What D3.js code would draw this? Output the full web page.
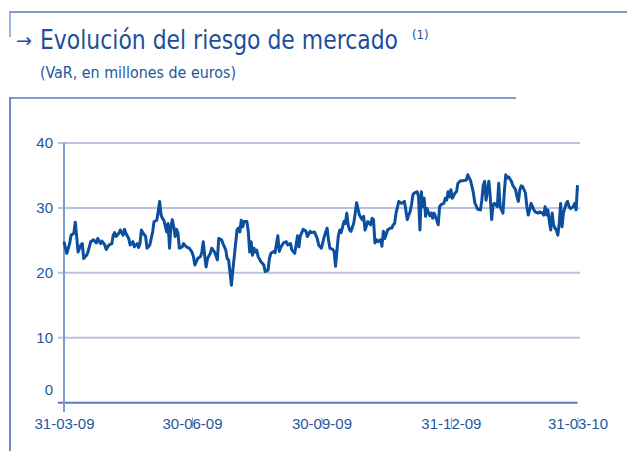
<!DOCTYPE html>
<html>
<head>
<meta charset="utf-8">
<script src="https://cdn.jsdelivr.net/npm/d3@7"></script>
<style>
  body { margin:0; background:#fff; }
  svg { display:block; }
</style>
</head>
<body>
<div id="chart"></div>
<script>
// ---- data ----
var startDate = "2009-03-31";
var endDate = "2010-03-31";
var tickDates = ["2009-03-31","2009-06-30","2009-09-30","2009-12-31","2010-03-31"];
var yTicks = [0, 10, 20, 30, 40];

// days after 31-03-09
var dayOffsets = [0,2,4,5,7,8,9,10,12,13,14,16,17,19,21,23,24,26,27,29,30,32,34,35,36,37,39,40,42,43,44,46,47,49,50,52,53,54,55,56,58,59,61,63,64,66,68,69,70,
  71,73,74,75,76,77,78,79,80,81,82,84,85,87,89,91,92,93,95,97,98,99,100,101,102,104,105,106,107,109,110,112,113,115,116,117,119,120,122,123,124,125,126,127,128,130,131,132,133,134,135,136,137,138,140,142,143,145,146,
  147,149,150,152,153,154,156,158,159,161,162,164,166,167,168,170,172,173,175,176,178,180,181,183,185,187,188,189,191,192,193,195,196,197,199,200,201,202,203,204,206,207,208,210,212,213,214,216,218,
  219,220,221,222,223,225,226,227,228,230,232,233,234,235,236,238,239,240,242,244,245,246,247,248,249,251,252,253,254,255,256,257,258,260,261,262,263,264,266,267,268,270,271,272,273,274,275,276,278,279,280,282,284,286,287,289,290,291,292,
  294,296,297,298,299,300,302,303,304,305,306,308,309,310,312,313,314,315,316,318,319,321,322,323,324,325,326,328,329,330,331,332,334,335,337,338,340,341,342,343,344,345,346,347,348,349,350,351,352,353,354,355,357,358,359,360,362,363,364,365];

// VaR, millions of euros
var varValues = [24.8,23.0,24.5,25.8,26.1,27.8,25.6,23.2,24.3,24.5,22.2,22.7,23.2,24.8,25.1,24.6,25.3,24.5,24.9,24.3,23.6,24.3,24.5,25.8,26.2,25.6,26.1,26.6,25.8,26.7,26.1,25.3,24.3,24.8,24.0,24.5,23.9,24.5,26.6,26.2,25.6,23.8,24.3,26.3,27.9,28.1,31.0,28.9,28.4,
  28.1,26.3,27.6,23.8,27.1,28.2,27.1,25.6,26.7,26.1,23.8,24.0,24.5,24.0,23.8,23.2,22.5,21.2,22.2,22.5,23.2,24.8,22.7,20.9,22.2,23.0,23.8,23.5,23.2,22.0,25.3,25.1,24.5,23.5,22.2,22.0,18.1,20.4,24.5,26.6,26.9,26.3,28.1,27.1,27.9,27.9,26.3,23.2,24.8,22.7,23.8,23.2,23.5,22.5,21.7,21.2,20.2,20.4,22.2,
  23.0,23.3,23.1,25.7,23.3,23.9,24.6,24.8,24.3,24.5,23.5,23.0,25.7,24.0,25.7,26.7,26.4,25.6,26.4,26.2,26.3,25.3,24.3,23.8,25.6,26.9,25.1,23.8,23.6,23.3,21.0,25.7,26.6,26.2,27.9,27.6,29.2,27.4,26.6,26.4,27.7,29.2,30.8,28.9,28.2,28.7,26.6,27.9,27.4,
  28.4,28.2,24.6,25.1,24.8,25.1,24.1,26.4,25.3,26.6,26.9,26.9,27.4,27.6,29.2,31.0,30.8,30.7,31.0,28.2,28.9,29.4,30.5,32.0,32.3,32.5,31.7,26.6,32.5,30.2,31.5,28.7,29.9,28.8,29.2,28.4,29.2,28.7,27.4,30.2,30.5,30.7,31.5,31.2,32.5,31.7,32.8,31.5,32.3,32.5,33.8,34.2,34.2,34.3,35.1,34.2,33.3,32.3,30.8,
  29.8,29.7,31.2,33.5,34.1,31.2,34.1,31.7,28.2,30.5,30.7,30.2,33.8,30.2,29.2,32.5,35.1,34.6,34.8,34.1,33.5,32.8,31.7,31.0,32.8,33.4,33.3,32.3,30.2,28.9,29.7,30.7,29.7,29.4,29.2,29.4,29.2,28.9,30.2,28.9,29.7,27.9,26.6,29.2,27.4,26.9,26.6,25.8,27.6,30.7,27.1,29.2,30.7,31.0,30.2,29.9,30.2,30.7,29.7,33.5];

var W = 627, H = 451;
var blue = "#0b4f9e", textBlue = "#2457a0", frameBlue = "#7d9ccf",
    gridColor = "#b9c2df", axisColor = "#5a7cb8";

var parse = d3.timeParse("%Y-%m-%d");
var fmt = d3.timeFormat("%d-%m-%y");
var t0 = parse(startDate);
var dataset = dayOffsets.map(function(d, i){ return {date: d3.timeDay.offset(t0, d), v: varValues[i]}; });

var svg = d3.select("#chart").append("svg")
  .attr("width", W).attr("height", H);

// frame lines
svg.append("line").attr("x1",10).attr("x2",W).attr("y1",12).attr("y2",12)
  .attr("stroke",frameBlue).attr("stroke-width",2);
svg.append("line").attr("x1",10).attr("x2",10).attr("y1",11).attr("y2",37)
  .attr("stroke",frameBlue).attr("stroke-width",1.5);
svg.append("line").attr("x1",10).attr("x2",516).attr("y1",98).attr("y2",98)
  .attr("stroke",frameBlue).attr("stroke-width",2);
svg.append("line").attr("x1",10).attr("x2",10).attr("y1",97).attr("y2",H)
  .attr("stroke","#3d68b0").attr("stroke-width",1.5);

// titles
svg.append("text").attr("x",16).attr("y",47).text("\u2192")
  .attr("font-family","'DejaVu Sans'").attr("font-size",19).attr("fill","#1e4f9c");

var titleText = svg.append("text")
  .attr("font-family","'DejaVu Sans Condensed',sans-serif")
  .attr("font-size",27).attr("fill","#1e4f9c")
  .text("Evolución del riesgo de mercado");
// squeeze horizontally so it spans x 40..400 like the reference
var natW = titleText.node().getComputedTextLength();
titleText.attr("transform","translate(40,49) scale(" + (358 / natW) + ",1)");

svg.append("text").attr("x",412).attr("y",39).text("(1)")
  .attr("font-family","'DejaVu Sans Condensed',sans-serif")
  .attr("font-size",13).attr("fill","#1e4f9c");

svg.append("text").attr("x",40).attr("y",78)
  .text("(VaR, en millones de euros)")
  .attr("font-family","'DejaVu Sans Condensed',sans-serif")
  .attr("font-size",15.5).attr("fill",textBlue)
  .attr("textLength",196).attr("lengthAdjust","spacingAndGlyphs");

// scales
var xScale = d3.scaleTime().domain([t0, parse(endDate)]).range([64, 577.5]);
var yScale = d3.scaleLinear().domain([0, 40]).range([402.7, 143]);

// gridlines
svg.selectAll(".grid").data(yTicks.slice(1)).enter().append("line")
  .attr("class","grid")
  .attr("x1",58).attr("x2",580)
  .attr("y1",function(d){return yScale(d);}).attr("y2",function(d){return yScale(d);})
  .attr("stroke",gridColor).attr("stroke-width",2);

// y axis labels
var yAxis = svg.append("g")
  .attr("transform","translate(64,0)")
  .call(d3.axisLeft(yScale).tickValues(yTicks).tickSize(0).tickPadding(11));
yAxis.select(".domain").remove();
yAxis.selectAll("text")
  .attr("font-family","'Liberation Sans',sans-serif").attr("font-size",15).attr("fill",textBlue)
  .attr("y",function(d){ return d === 0 ? -13 : 0; });

// x axis
svg.append("line").attr("x1",58).attr("x2",577.5).attr("y1",yScale(0)).attr("y2",yScale(0))
  .attr("stroke",axisColor).attr("stroke-width",2);
svg.append("line").attr("x1",64).attr("x2",64).attr("y1",143).attr("y2",412)
  .attr("stroke","#7f9bcc").attr("stroke-width",2);

var xAxis = svg.append("g")
  .attr("transform","translate(0,"+yScale(0)+")")
  .call(d3.axisBottom(xScale).tickValues(tickDates.map(parse)).tickFormat(fmt).tickSize(0).tickPadding(16));
xAxis.select(".domain").remove();
xAxis.selectAll("text")
  .attr("font-family","'Liberation Sans',sans-serif").attr("font-size",15).attr("fill",textBlue);
// faint tick marks showing through the labels
xAxis.selectAll(".tick").filter(function(d,i){return i>0;}).append("line")
  .attr("y1",15).attr("y2",25).attr("stroke","#5f82c0").attr("stroke-width",0.8);

// series
var line = d3.line()
  .x(function(d){return xScale(d.date);})
  .y(function(d){return yScale(d.v);});

svg.append("path").datum(dataset)
  .attr("fill","none").attr("stroke",blue).attr("stroke-width",3)
  .attr("stroke-linejoin","round")
  .attr("d",line);
</script>
</body>
</html>
